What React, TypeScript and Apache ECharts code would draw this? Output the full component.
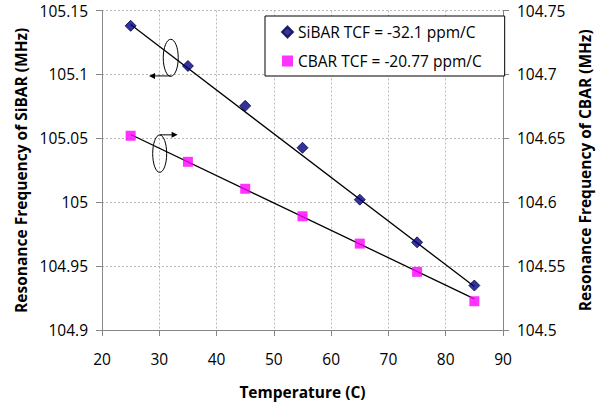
import React, { useEffect, useRef } from "react";
import * as echarts from "echarts";

const temperatures = [25, 35, 45, 55, 65, 75, 85];
const sibarFreq = [105.138, 105.1066, 105.0754, 105.0426, 105.002, 104.9686, 104.9348];
const cbarFreq = [104.652, 104.6316, 104.6105, 104.589, 104.5676, 104.5455, 104.5225];
const sibarTrend = [[25, 105.139], [85, 104.934]];
const cbarTrend = [[25, 104.653], [85, 104.5244]];
const sibarName = "SiBAR TCF = -32.1 ppm/C";
const cbarName = "CBAR TCF = -20.77 ppm/C";
const xTitle = "Temperature (C)";
const yLeftTitle = "Resonance Frequency of SiBAR (MHz)";
const yRightTitle = "Resonance Frequency of CBAR (MHz)";

const FONT = "'Open Sans', sans-serif";

export default function App() {
  const ref = useRef<HTMLDivElement>(null);
  useEffect(() => {
    if (!ref.current) return;
    const chart = echarts.init(ref.current, undefined, { renderer: "svg" });
    const axisLine = { show: true, lineStyle: { color: "#868686", width: 1 } };
    const split = { show: true, lineStyle: { color: "#b8b8b8", type: [2, 2], width: 1 } };
    const label = { color: "#000", fontFamily: FONT, fontSize: 15.5, margin: 14 };
    const nameStyle = { color: "#000", fontFamily: FONT, fontSize: 15.5, fontWeight: "bold" as const };
    chart.setOption({
      animation: false,
      backgroundColor: "#fff",
      grid: { left: 102, right: 101, top: 10.5, bottom: 75, containLabel: false },
      legend: {
        orient: "vertical",
        left: 265,
        top: 16,
        data: [sibarName, cbarName],
        itemWidth: 11,
        itemHeight: 11,
        itemGap: 13,
        padding: [8, 23, 7, 16],
        borderColor: "#000",
        borderWidth: 1,
        backgroundColor: "#fff",
        textStyle: { color: "#000", fontFamily: FONT, fontSize: 15.5, lineHeight: 15 },
      },
      xAxis: {
        type: "value",
        min: 20,
        max: 90,
        interval: 10,
        name: xTitle,
        nameLocation: "middle",
        nameGap: 54,
        nameTextStyle: nameStyle,
        axisLine,
        axisTick: { show: true, length: 6, lineStyle: { color: "#868686" } },
        axisLabel: { ...label, margin: 21 },
        splitLine: split,
      },
      yAxis: [
        {
          type: "value",
          min: 104.9,
          max: 105.15,
          interval: 0.05,
          name: yLeftTitle,
          nameLocation: "middle",
          nameRotate: 90,
          nameGap: 73,
          nameTextStyle: nameStyle,
          axisLine,
          axisTick: { show: true, length: 6, lineStyle: { color: "#868686" } },
          axisLabel: label,
          splitLine: split,
        },
        {
          type: "value",
          position: "right",
          min: 104.5,
          max: 104.75,
          interval: 0.05,
          name: yRightTitle,
          nameLocation: "middle",
          nameRotate: 90,
          nameGap: 74,
          nameTextStyle: nameStyle,
          axisLine,
          axisTick: { show: true, length: 6, lineStyle: { color: "#868686" } },
          axisLabel: label,
          splitLine: { show: false },
        },
      ],
      series: [
        {
          type: "line",
          name: "SiBAR trend",
          yAxisIndex: 0,
          data: sibarTrend,
          symbol: "none",
          lineStyle: { color: "#000", width: 1.3 },
          z: 2,
        },
        {
          type: "line",
          name: "CBAR trend",
          yAxisIndex: 1,
          data: cbarTrend,
          symbol: "none",
          lineStyle: { color: "#000", width: 1.3 },
          z: 2,
        },
        {
          type: "scatter",
          name: sibarName,
          yAxisIndex: 0,
          data: temperatures.map((t, i) => [t, sibarFreq[i]]),
          symbol: "diamond",
          symbolSize: 11,
          itemStyle: { color: "#000080", borderColor: "#00004a", borderWidth: 1 },
          z: 3,
        },
        {
          type: "scatter",
          name: cbarName,
          yAxisIndex: 1,
          data: temperatures.map((t, i) => [t, cbarFreq[i]]),
          symbol: "rect",
          symbolSize: 10,
          itemStyle: { color: "#ff00ff" },
          z: 3,
        },
      ],
    });

    const px = (x: number, y: number) =>
      chart.convertToPixel({ xAxisIndex: 0, yAxisIndex: 0 }, [x, y]) as number[];
    const stroke = { stroke: "#000", lineWidth: 1, fill: "none" };
    const e1 = px(32.0, 105.113);
    const a1s = px(32.0, 105.0988);
    const a1e = px(28.2, 105.0988);
    const e2 = px(30.07, 105.038);
    const a2s = px(30.1, 105.0527);
    const a2e = px(33.2, 105.0527);
    chart.setOption({
      graphic: [
        { type: "ellipse", shape: { cx: e1[0], cy: e1[1], rx: 7.5, ry: 18.5 }, style: stroke, z: 10 },
        { type: "line", shape: { x1: a1s[0], y1: a1s[1], x2: a1e[0] + 4, y2: a1e[1] }, style: { stroke: "#000", lineWidth: 1 }, z: 10 },
        {
          type: "polygon",
          shape: { points: [[a1e[0], a1e[1]], [a1e[0] + 6, a1e[1] - 3], [a1e[0] + 6, a1e[1] + 3]] },
          style: { fill: "#000" },
          z: 10,
        },
        { type: "ellipse", shape: { cx: e2[0], cy: e2[1], rx: 7, ry: 18.7 }, style: stroke, z: 10 },
        { type: "line", shape: { x1: a2s[0], y1: a2s[1], x2: a2e[0] - 4, y2: a2e[1] }, style: { stroke: "#000", lineWidth: 1 }, z: 10 },
        {
          type: "polygon",
          shape: { points: [[a2e[0], a2e[1]], [a2e[0] - 6, a2e[1] - 3], [a2e[0] - 6, a2e[1] + 3]] },
          style: { fill: "#000" },
          z: 10,
        },
      ],
    });
    return () => chart.dispose();
  }, []);
  return (
    <div
      ref={ref}
      style={{ position: "fixed", left: 0, top: 0, width: 604, height: 405, background: "#fff" }}
    />
  );
}
